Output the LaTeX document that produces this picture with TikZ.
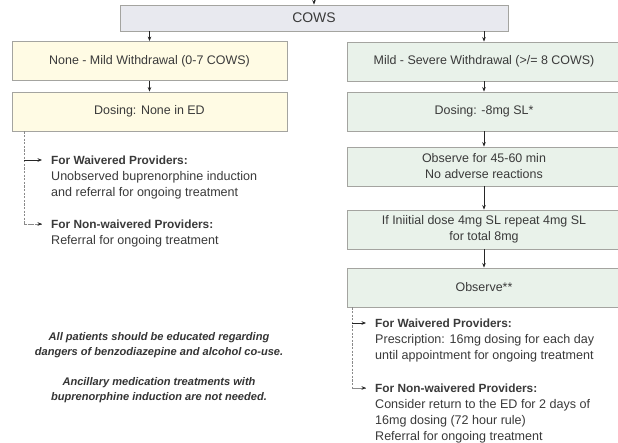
\documentclass[tikz,border=0pt]{standalone}
\usepackage{fontspec}
\setmainfont{Liberation Sans}
\usetikzlibrary{arrows.meta,calc}

\definecolor{boxline}{HTML}{A4A4A0}
\definecolor{creamfill}{HTML}{FFFBE4}
\definecolor{sagefill}{HTML}{E9F2EA}
\definecolor{greyfill}{HTML}{E8E9EF}
\definecolor{inktext}{HTML}{3A3A3A}
\definecolor{branchline}{HTML}{8A8A8A}

% bold headings in the provider notes are set a little smaller than the body
\newcommand{\provhead}[1]{{\fontsize{11.9}{16.2}\selectfont\bfseries #1}}

\begin{document}
\begin{tikzpicture}[x=1bp,y=-1bp,
  box/.style={draw=boxline, line width=0.9bp, inner sep=0pt, minimum height=39bp,
    text=inktext, align=center, font=\fontsize{12.5}{16}\selectfont},
  creambox/.style={box, fill=creamfill, minimum width=275bp},
  sagebox/.style={box, fill=sagefill, minimum width=274bp},
  flow/.style={-{Stealth[length=4.5bp,width=3.6bp]}, line width=0.7bp, draw=black!85},
  branch/.style={draw=branchline, line width=0.9bp, dash pattern=on 2.2bp off 1.4bp,
    -{Stealth[length=4.5bp,width=3.6bp,black!85]}},
  provider/.style={anchor=north west, inner sep=0pt, align=left, text=inktext,
    font=\fontsize{12.6}{16.2}\selectfont},
  remark/.style={inner sep=0pt, align=center, text=inktext!90!black,
    font=\fontsize{11.1}{15}\selectfont\bfseries\itshape}]
\useasboundingbox (0,0) rectangle (618,443);
\fill[white] (0,0) rectangle (618,443);

% top assessment box
\node[box, fill=greyfill, minimum width=388bp, minimum height=26bp,
  font=\fontsize{14}{16}\selectfont] (cows) at (314,18) {COWS};
\coordinate (entry) at (314,-1);
\draw[flow] (entry) -- (cows.north);

% mild branch
\node[creambox] (mild) at (149.5,61) {None - Mild Withdrawal (0-7 COWS)};
\node[creambox] (nodose) at (149.5,111.5) {Dosing: None in ED};

% severe branch
\node[sagebox] (severe) at (484,61.5) {Mild - Severe Withdrawal (>/= 8 COWS)};
\node[sagebox] (dose) at (484,111.5) {Dosing: -8mg SL*};
\node[sagebox] (watch) at (484,166.5) {Observe for 45-60 min\\No adverse reactions};
\node[sagebox] (repeat) at (484,229.5) {If Iniitial dose 4mg SL repeat 4mg SL\\for total 8mg};
\node[sagebox] (observe) at (484,287.5) {Observe**};

\draw[flow] (cows.south -| mild.north) -- (mild.north);
\draw[flow] (cows.south -| severe.north) -- (severe.north);
\draw[flow] (mild) -- (nodose);
\draw[flow] (severe) -- (dose);
\draw[flow] (dose) -- (watch);
\draw[flow] (watch) -- (repeat);
\draw[flow] (repeat) -- (observe);

% provider options under the mild branch
\node[provider] (lwaiv) at (51,155.5) {\provhead{For Waivered Providers:}\\Unobserved buprenorphine induction\\and referral for ongoing treatment};
\node[provider] (lnonw) at (51,219.5) {\provhead{For Non-waivered Providers:}\\Referral for ongoing treatment};
\coordinate (ltop) at (nodose.south -| 24,0);
\draw[branch, -] (ltop) |- ($(lnonw.north west)+(-9,4.5)$);
\draw[branch] ($(lnonw.north west)+(-27,4.5)$) -- ($(lnonw.north west)+(-9,4.5)$);
\draw[flow] ($(lwaiv.north west)+(-27,4.5)$) -- ($(lwaiv.north west)+(-9,4.5)$);

% provider options under the severe branch
\node[provider] (rwaiv) at (375,318.5) {\provhead{For Waivered Providers:}\\Prescription: 16mg dosing for each day\\until appointment for ongoing treatment};
\node[provider] (rnonw) at (375,383.5) {\provhead{For Non-waivered Providers:}\\Consider return to the ED for 2 days of\\16mg dosing (72 hour rule)\\Referral for ongoing treatment};
\coordinate (rtop) at (observe.south -| 352,0);
\draw[branch, -] (rtop) |- ($(rnonw.north west)+(-9,4.5)$);
\draw[branch] ($(rnonw.north west)+(-23,4.5)$) -- ($(rnonw.north west)+(-9,4.5)$);
\draw[flow] ($(rwaiv.north west)+(-23,4.5)$) -- ($(rwaiv.north west)+(-9,4.5)$);

% general remarks
\node[remark] (educate) at (159,345.5) {All patients should be educated regarding\\dangers of benzodiazepine and alcohol co-use.};
\node[remark] (ancillary) at (159,390.5) {Ancillary medication treatments with\\buprenorphine induction are not needed.};
\end{tikzpicture}
\end{document}
